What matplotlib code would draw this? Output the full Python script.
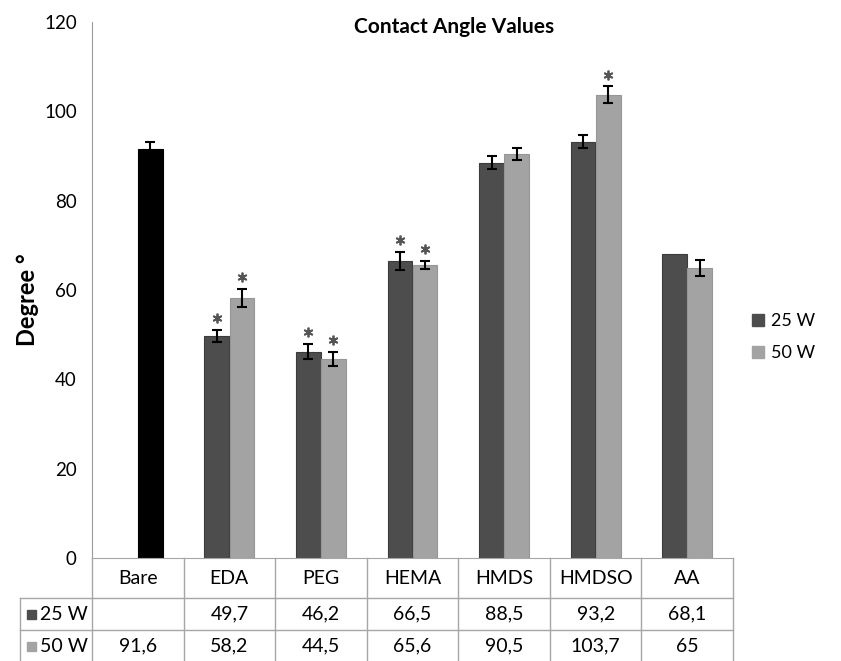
import numpy as np
import matplotlib.pyplot as plt

plt.rcParams['font.family'] = ['Lato', 'DejaVu Sans']

cats = ['Bare', 'EDA', 'PEG', 'HEMA', 'HMDS', 'HMDSO', 'AA']
w25 = [np.nan, 49.7, 46.2, 66.5, 88.5, 93.2, 68.1]
w50 = [91.6, 58.2, 44.5, 65.6, 90.5, 103.7, 65]
err25 = [np.nan, 1.4, 1.7, 2.0, 1.4, 1.5, np.nan]
err50 = [1.6, 2.0, 1.6, 1.0, 1.4, 1.9, 1.8]
star25 = [False, True, True, True, False, False, False]
star50 = [False, True, True, True, False, True, False]
row25 = ['', '49,7', '46,2', '66,5', '88,5', '93,2', '68,1']
row50 = ['91,6', '58,2', '44,5', '65,6', '90,5', '103,7', '65']

c25 = '#4d4d4d'
c50 = '#a3a3a3'
grid_c = '#a6a6a6'

W, H = 841, 661
fig = plt.figure(figsize=(W / 100, H / 100), dpi=100)
x0, x1, y0, y1 = 92, 733, 558, 22
ax = fig.add_axes([x0 / W, (H - y0) / H, (x1 - x0) / W, (y0 - y1) / H])

x = np.arange(len(cats))
bw = 0.27
off = 0.137
cols50 = ['black'] + [c50] * (len(cats) - 1)
edge50 = ['black'] + ['#969696'] * (len(cats) - 1)
ekw = dict(ecolor='black', capsize=3.5, elinewidth=1.5, capthick=1.5)
ax.bar(x - off, w25, bw, color=c25, edgecolor='#3c3c3c', linewidth=0.8, yerr=err25, error_kw=ekw)
ax.bar(x + off, w50, bw, color=cols50, edgecolor=edge50, linewidth=0.8, yerr=err50, error_kw=ekw)

# significance stars
for i in range(len(cats)):
    if star25[i]:
        ax.plot(x[i] - off, w25[i] + err25[i] + 2.6, marker=(6, 2, 0), ms=7, mew=1.3, color='#555555')
    if star50[i]:
        ax.plot(x[i] + off, w50[i] + err50[i] + 2.6, marker=(6, 2, 0), ms=7, mew=1.3, color='#555555')

ax.set_xlim(-0.5, len(cats) - 0.5)
ax.set_ylim(0, 120)
ax.set_yticks(range(0, 121, 20))
ax.tick_params(axis='y', labelsize=13.5, length=0, pad=11)
ax.set_xticks([])
for s in ['top', 'right']:
    ax.spines[s].set_visible(False)
ax.spines['left'].set_color('#9a9a9a')
ax.spines['bottom'].set_color(grid_c)
fig.text(454 / W, 1 - 27 / H, 'Contact Angle Values', ha='center', va='center', fontsize=15, fontweight='bold')
ax.set_ylabel('Degree \u00b0', fontsize=17, fontweight='bold')
ax.yaxis.set_label_coords((39 - x0) / (x1 - x0), (y0 - 300) / (y0 - y1))

# legend at right
h1 = plt.Rectangle((0, 0), 1, 1, color=c25)
h2 = plt.Rectangle((0, 0), 1, 1, color=c50)
fig.legend([h1, h2], ['25 W', '50 W'], loc='center left', bbox_to_anchor=(736 / W, 1 - 337 / H),
           frameon=False, fontsize=13, handlelength=0.65, handleheight=0.65, handletextpad=0.4, labelspacing=0.9)

# data table below the axes, in pixel coordinates
tx = fig.add_axes([0, 0, 1, 1], facecolor='none')
tx.set_xlim(0, W)
tx.set_ylim(H, 0)
tx.axis('off')
cw = (x1 - x0) / len(cats)
edges = [x0 + i * cw for i in range(len(cats) + 1)]
r0, r1, r2, r3 = 558, 598, 630, 662
for e in edges:
    tx.plot([e, e], [r0, r3], color=grid_c, lw=1)
tx.plot([20, 20], [r1, r3], color=grid_c, lw=1)
for r in [r1, r2]:
    tx.plot([20, x1], [r, r], color=grid_c, lw=1)
for i, c in enumerate(cats):
    cx = (edges[i] + edges[i + 1]) / 2
    tx.text(cx, (r0 + r1) / 2, c, ha='center', va='center', fontsize=14)
    tx.text(cx, (r1 + r2) / 2, row25[i], ha='center', va='center', fontsize=14)
    tx.text(cx, (r2 + r3) / 2, row50[i], ha='center', va='center', fontsize=14)
for (ya, yb), lab, col in [((r1, r2), '25 W', c25), ((r2, r3), '50 W', c50)]:
    ym = (ya + yb) / 2
    tx.add_patch(plt.Rectangle((27, ym - 4.5), 9, 9, color=col))
    tx.text(40, ym, lab, ha='left', va='center', fontsize=14)

fig.savefig('out.png', dpi=100)
